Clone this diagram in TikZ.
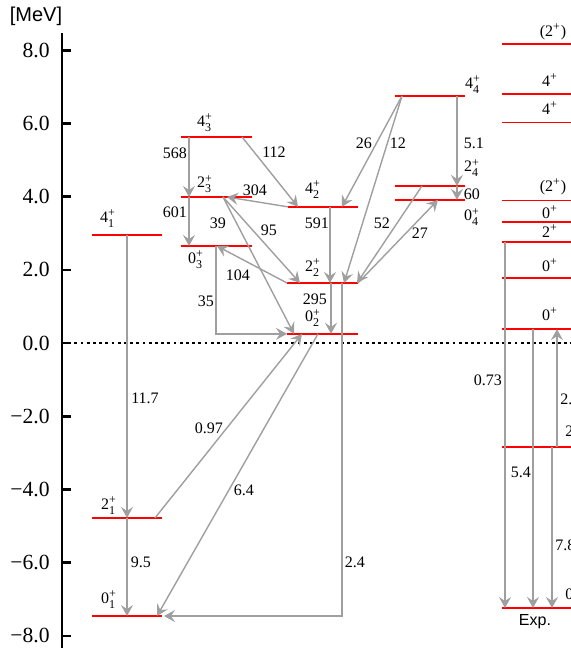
\documentclass[tikz,border=0pt]{standalone}
\usepackage{amsmath}
\usepackage{fontspec}
\setmainfont{Liberation Serif}
\setsansfont{Liberation Sans}
\usetikzlibrary{arrows.meta}

% J^+ with index, and J^+ alone
\newcommand{\spin}[2]{#1$^{\text{+}}_{\text{#2}}$}
\newcommand{\expj}[1]{#1\textsuperscript{+}}

\begin{document}
\begin{tikzpicture}[x=0.5pt, y=18.3pt,
    lvl/.style={red, line width=0.8pt},
    tr/.style={gray!75, line width=0.7pt, -{Stealth[length=5.5pt,width=6pt,inset=2pt]}},
    lab/.style={inner sep=0pt, font=\fontsize{8}{9}\selectfont},
    ticklab/.style={inner sep=0pt, anchor=east, font=\fontsize{10.8}{12}\selectfont}]

    \clip (0,-8.47) rectangle (571,9.372);

    % energy axis
    \draw [line width=1.2pt] (62,8.47) -- (62,-8.33);
    \foreach \e/\t in {8/8.0,6/6.0,4/4.0,2/2.0,0/0.0,-2/−2.0,-4/−4.0,-6/−6.0,-8/−8.0} {
        \draw [line width=1.3pt] (62,\e) -- (71,\e);
        \node [ticklab] (tk\e) at (50,\e) {\t};
    }
    \node [inner sep=0pt, font=\sffamily\fontsize{10}{12}\selectfont] (unit) at (36,8.93) {[MeV]};

    % threshold
    \draw [line width=0.9pt, dash pattern=on 1.4pt off 1.7pt] (62,0) -- (571,0);

    % model levels
    \draw [lvl] (92,2.95) coordinate (g41) -- (162,2.95);
    \draw [lvl] (92,-4.78) coordinate (g21) -- (162,-4.78);
    \draw [lvl] (92,-7.46) coordinate (g01) -- (162,-7.46);
    \draw [lvl] (181,5.63) coordinate (g43) -- (252,5.63);
    \draw [lvl] (181,3.99) coordinate (g23) -- (252,3.99);
    \draw [lvl] (181,2.65) coordinate (g03) -- (252,2.65);
    \draw [lvl] (288,3.72) coordinate (g42) -- (358,3.72);
    \draw [lvl] (287,1.64) coordinate (g22) -- (358,1.64);
    \draw [lvl] (287,0.25) coordinate (g02) -- (358,0.25);
    \draw [lvl] (395,6.75) coordinate (g44) -- (465,6.75);
    \draw [lvl] (395,4.29) coordinate (g24) -- (465,4.29);
    \draw [lvl] (395,3.91) coordinate (g04) -- (465,3.91);

    % experimental levels
    \foreach \e [count=\i] in {8.17,6.81,6.03,3.89,3.31,2.76,1.78,0.38,-2.84,-7.24}
        \draw [lvl] (502,\e) coordinate (x\i) -- (580,\e);

    % transitions, left
    \draw [tr] (127,0 |- g41) -- (127,0 |- g21);
    \draw [tr] (127,0 |- g21) -- (127,0 |- g01);
    \draw [tr] (155,0 |- g21) -- (302,0 |- g02);
    \draw [tr] (318,0 |- g02) -- (157,0 |- g01);
    \draw [tr] (342,0 |- g22) -- (342,0 |- g01) -- (164,0 |- g01);

    % transitions, middle
    \draw [tr] (189,0 |- g43) -- (189,0 |- g23);
    \draw [tr] (189,0 |- g23) -- (189,0 |- g03);
    \draw [tr] (242,0 |- g43) -- (298,0 |- g42);
    \draw [tr] (288,0 |- g42) -- (227,0 |- g23);
    \draw [tr] (223,0 |- g23) -- (300,0 |- g22);
    \draw [tr] (223,0 |- g23) -- (294,0 |- g02);
    \draw [tr] (287,0 |- g22) -- (217,0 |- g03);
    \draw [tr] (216,0 |- g03) -- (216,0 |- g02) -- (287,0 |- g02);
    \draw [tr] (330,0 |- g42) -- (330,0 |- g22);
    \draw [tr] (331,0 |- g22) -- (331,0 |- g02);

    % transitions, right
    \draw [tr] (402,0 |- g44) -- (342,0 |- g42);
    \draw [tr] (402,0 |- g44) -- (344,0 |- g22);
    \draw [tr] (457,0 |- g44) -- (457,0 |- g24);
    \draw [tr] (457,0 |- g24) -- (457,0 |- g04);
    \draw [tr] (422,0 |- g24) -- (357,0 |- g22);
    \draw [tr] (358,0 |- g22) -- (438,0 |- g04);

    % transitions, experiment
    \draw [tr] (505,0 |- x6) -- (505,0 |- x10);
    \draw [tr] (533,0 |- x8) -- (533,0 |- x10);
    \draw [tr] (557,0 |- x9) -- (557,0 |- x8);
    \draw [tr] (552,0 |- x9) -- (552,0 |- x10);

    % level names
    \node [lab] (n41) at (108,3.39) {\spin{4}{1}};
    \node [lab] (n21) at (109,-4.45) {\spin{2}{1}};
    \node [lab] (n01) at (109,-7.02) {\spin{0}{1}};
    \node [lab] (n43) at (205,6.02) {\spin{4}{3}};
    \node [lab] (n23) at (205,4.34) {\spin{2}{3}};
    \node [lab] (n03) at (196,2.27) {\spin{0}{3}};
    \node [lab] (n42) at (313,4.18) {\spin{4}{2}};
    \node [lab] (n22) at (313,2.05) {\spin{2}{2}};
    \node [lab] (n02) at (313,0.68) {\spin{0}{2}};
    \node [lab] (n44) at (473,7.05) {\spin{4}{4}};
    \node [lab] (n24) at (472,4.78) {\spin{2}{4}};
    \node [lab] (n04) at (472,3.44) {\spin{0}{4}};

    % values
    \node [lab] (v117) at (145,-1.50) {11.7};
    \node [lab] (v95) at (141,-5.98) {9.5};
    \node [lab] (v097) at (209,-2.32) {0.97};
    \node [lab] (v64) at (244,-4.02) {6.4};
    \node [lab] (v24) at (355,-5.98) {2.4};
    \node [lab] (v568) at (175,5.19) {568};
    \node [lab] (v601) at (175,3.58) {601};
    \node [lab] (v112) at (274,5.22) {112};
    \node [lab] (v304) at (255,4.18) {304};
    \node [lab] (v39) at (218,3.28) {39};
    \node [lab] (v95b) at (269,3.09) {95};
    \node [lab] (v591) at (317,3.28) {591};
    \node [lab] (v104) at (238,1.86) {104};
    \node [lab] (v35) at (206,1.15) {35};
    \node [lab] (v295) at (315,1.20) {295};
    \node [lab] (v26) at (364,5.46) {26};
    \node [lab] (v12) at (398,5.46) {12};
    \node [lab] (v51) at (474,5.46) {5.1};
    \node [lab] (v60) at (472,4.07) {60};
    \node [lab] (v52) at (382,3.28) {52};
    \node [lab] (v27) at (420,3.01) {27};

    % experiment labels
    \node [lab] (e1) at (553,8.50) {(\expj{2})};
    \node [lab] (e2) at (550,7.19) {\expj{4}};
    \node [lab] (e3) at (550,6.42) {\expj{4}};
    \node [lab] (e4) at (553,4.26) {(\expj{2})};
    \node [lab] (e5) at (550,3.58) {\expj{0}};
    \node [lab] (e6) at (550,3.06) {\expj{2}};
    \node [lab] (e7) at (550,2.13) {\expj{0}};
    \node [lab] (e8) at (550,0.79) {\expj{0}};
    \node [lab, anchor=west] (e9) at (565,-2.38) {\expj{2}};
    \node [lab, anchor=west] (e10) at (565,-6.83) {\expj{0}};
    \node [lab] (v073) at (488,-1.01) {0.73};
    \node [lab] (v54) at (521,-3.53) {5.4};
    \node [lab, anchor=west] (v26e) at (560,-1.53) {2.6};
    \node [lab, anchor=west] (v78) at (555,-5.52) {7.8};
    \node [inner sep=0pt, font=\sffamily\fontsize{8}{9}\selectfont] (exp) at (535,-7.60) {Exp.};
\end{tikzpicture}
\end{document}
